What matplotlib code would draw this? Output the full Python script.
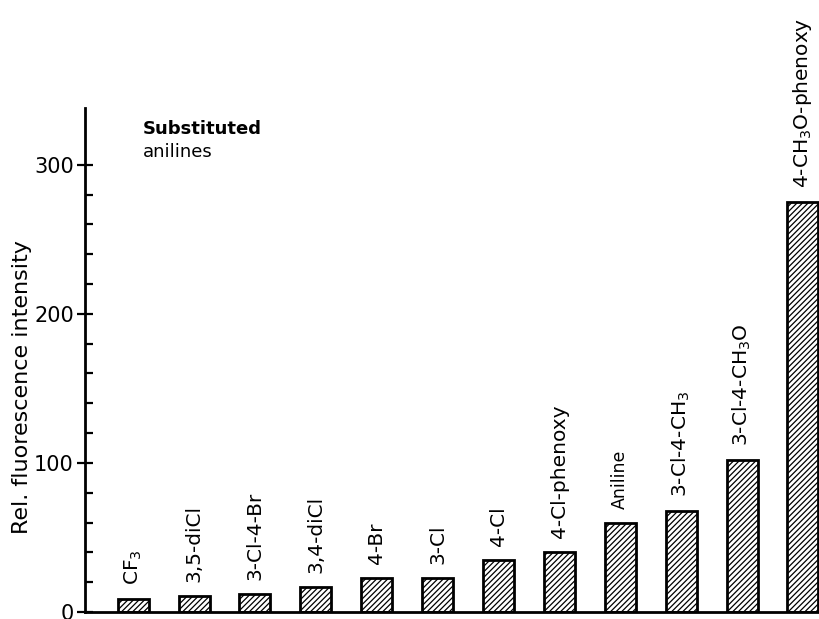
import numpy as np
import matplotlib
matplotlib.use("Agg")
import matplotlib.pyplot as plt

# substituted anilines and their relative fluorescence intensity
labels = ["CF$_3$", "3,5-diCl", "3-Cl-4-Br", "3,4-diCl", "4-Br", "3-Cl", "4-Cl",
          "4-Cl-phenoxy", "Aniline", "3-Cl-4-CH$_3$", "3-Cl-4-CH$_3$O",
          "4-CH$_3$O-phenoxy"]
intensity = [9, 11, 12, 17, 23, 23, 35, 40, 60, 68, 102, 275]
yticks = [0, 100, 200, 300]

plt.rcParams["font.family"] = ["DejaVu Sans"]
plt.rcParams["hatch.linewidth"] = 0.9

fig = plt.figure(figsize=(8.2, 6.19), dpi=100)
ax = fig.add_axes([0.1037, 0.0113, 0.8963, 0.814])

x = np.arange(len(labels))
ax.bar(x, intensity, width=0.51, color="white", edgecolor="black",
       linewidth=2, hatch="//////")

for xi, h, lab in zip(x, intensity, labels):
    # the plain "Aniline" label is set in a narrower face in the original
    fs = 12.5 if lab == "Aniline" else 14.5
    ax.annotate(lab, (xi, h), xytext=(0, 10), textcoords="offset points",
                rotation=90, ha="center", va="bottom", fontsize=fs)

ax.set_xlim(-0.79, 11.28)
ax.set_ylim(0, 338)
ax.set_xticks([])
ax.set_yticks(yticks)
ax.set_yticks(np.arange(0, 301, 20), minor=True)
ax.tick_params(axis="y", which="major", direction="inout", length=12, width=1.6,
               labelsize=15, pad=2)
ax.tick_params(axis="y", which="minor", direction="in", length=6, width=1.6)
for s in ["top", "right"]:
    ax.spines[s].set_visible(False)
ax.spines["left"].set_linewidth(2)
ax.spines["bottom"].set_linewidth(2)

fig.text(22 / 820, 1 - 387 / 619, "Rel. fluorescence intensity", rotation=90,
         ha="center", va="center", fontsize=16)

ax.text(0.079, 0.976, "Substituted", transform=ax.transAxes, fontsize=13,
        fontweight="bold", va="top", ha="left")
ax.text(0.079, 0.931, "anilines", transform=ax.transAxes, fontsize=13,
        va="top", ha="left")

fig.savefig("out.png", dpi=100)
